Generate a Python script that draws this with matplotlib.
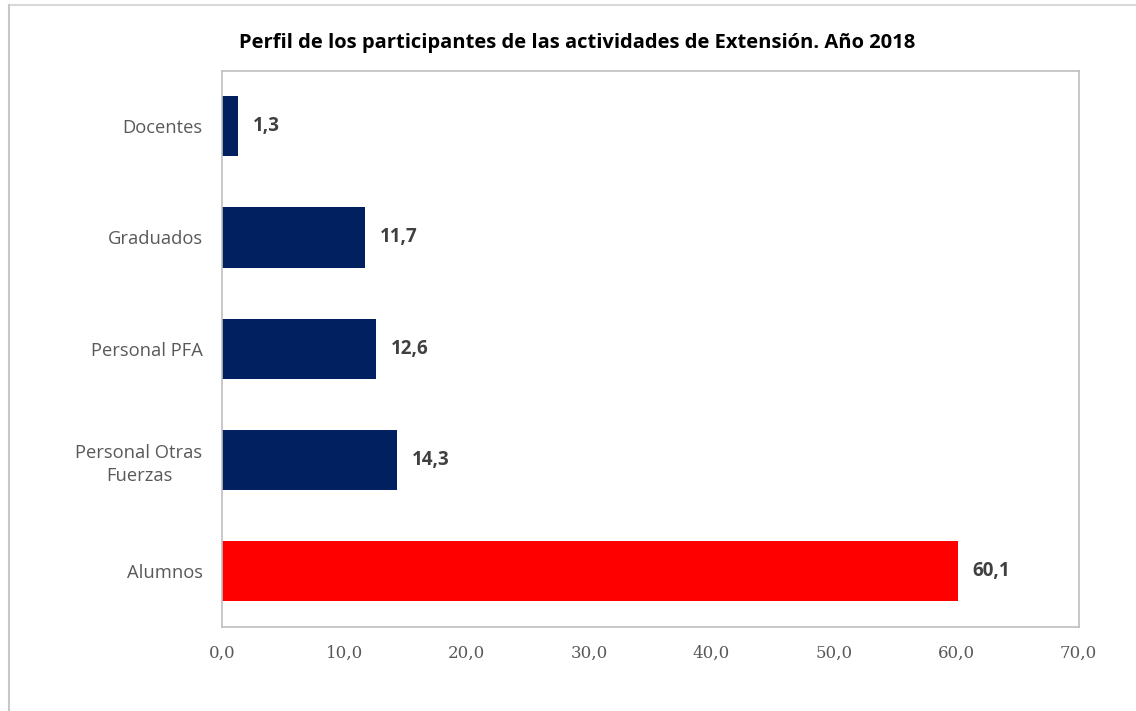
import matplotlib.pyplot as plt
from matplotlib.lines import Line2D

categorias = ["Alumnos", "Personal Otras\nFuerzas", "Personal PFA", "Graduados", "Docentes"]
valores = [60.1, 14.3, 12.6, 11.7, 1.3]
colores = ["#ff0000", "#002060", "#002060", "#002060", "#002060"]
ticks_x = [0, 10, 20, 30, 40, 50, 60, 70]

fig = plt.figure(figsize=(11.36, 7.11), dpi=100)
ax = fig.add_axes([0.1954, 0.1181, 0.7542, 0.7827])

ax.barh(range(len(valores)), valores, height=0.54, color=colores)

for i, v in enumerate(valores):
    ax.text(v + 1.2, i, f"{v:.1f}".replace(".", ","), va="center", ha="left",
            fontsize=13.5, fontweight="bold", color="#404040", family="Open Sans")

ax.set_xlim(0, 70)
ax.set_ylim(-0.5, 4.5)
ax.set_xticks(ticks_x)
ax.set_xticklabels([f"{t:.1f}".replace(".", ",") for t in ticks_x],
                   family="DejaVu Serif", fontsize=12, color="#595959")
ax.set_yticks(range(len(categorias)))
ax.set_yticklabels(categorias, family="Open Sans", fontsize=13.2, color="#595959",
                   linespacing=1.35, multialignment="center")
ax.tick_params(length=0)
ax.tick_params(axis="x", pad=13)
ax.tick_params(axis="y", pad=14)
for s in ax.spines.values():
    s.set_color("#bfbfbf")
    s.set_linewidth(1.2)

fig.text(0.508, 0.94, "Perfil de los participantes de las actividades de Extensión. Año 2018",
         ha="center", va="center", fontsize=14.5, fontweight="bold", family="Open Sans")

# borde exterior (solo arriba e izquierda, el resto queda recortado)
fig.lines.append(Line2D([0.0075, 1.0], [0.993, 0.993], transform=fig.transFigure,
                        color="#d9d9d9", linewidth=1.5))
fig.lines.append(Line2D([0.0075, 0.0075], [0.0, 0.993], transform=fig.transFigure,
                        color="#c8c8c8", linewidth=1.5))

fig.savefig("out.png", dpi=100)
